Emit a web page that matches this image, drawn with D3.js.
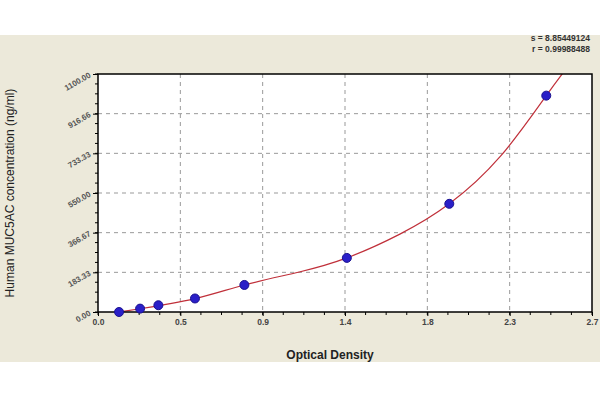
<!DOCTYPE html>
<html><head><meta charset="utf-8">
<script src="https://cdn.jsdelivr.net/npm/d3@7"></script>
<style>body{margin:0;background:#fff}</style></head>
<body><svg id="chart" width="600" height="400"></svg>
<script>
// standards: optical density vs concentration
const od = [0.115, 0.23, 0.33, 0.53, 0.80, 1.36, 1.92, 2.45];
const conc = [0, 15.6, 31.25, 62.5, 125, 250, 500, 1000];
// fitted curve
const curveOd = [0.10, 0.23, 0.53, 0.80, 1.10, 1.36, 1.65, 1.92, 2.20, 2.45, 2.60];
const curveConc = [-2, 15, 62, 125, 185, 250, 360, 500, 720, 1000, 1170];
const xTicks = [0, 0.45, 0.9, 1.35, 1.8, 2.25, 2.7];
const xTickLabels = ['0.0', '0.5', '0.9', '1.4', '1.8', '2.3', '2.7'];
const yTicks = [0, 183.33, 366.67, 550, 733.33, 916.66, 1100];
const yTickLabels = ['0.00', '183.33', '366.67', '550.00', '733.33', '916.66', '1100.00'];
const stats = ['s = 8.85449124', 'r = 0.99988488'];

const svg = d3.select('#chart');
svg.append('rect').attr('x', 0).attr('y', 35).attr('width', 600).attr('height', 327).attr('fill', '#ece9da');

const pLeft = 98, pRight = 592, pTop = 74, pBottom = 312;
const x = d3.scaleLinear().domain([0, 2.7]).range([pLeft, pRight]);
const y = d3.scaleLinear().domain([0, 1100]).range([pBottom, pTop]);

svg.append('rect').attr('x', pLeft).attr('y', pTop).attr('width', pRight - pLeft).attr('height', pBottom - pTop).attr('fill', '#fff');

const grid = svg.append('g').attr('stroke', '#999').attr('stroke-dasharray', '4,4');
xTicks.slice(1, -1).forEach(t => grid.append('line').attr('x1', x(t)).attr('x2', x(t)).attr('y1', pTop).attr('y2', pBottom));
yTicks.slice(1, -1).forEach(t => grid.append('line').attr('y1', y(t)).attr('y2', y(t)).attr('x1', pLeft).attr('x2', pRight));

svg.append('clipPath').attr('id', 'clip').append('rect')
    .attr('x', pLeft).attr('y', pTop).attr('width', pRight - pLeft).attr('height', pBottom - pTop);

const line = d3.line().x(d => x(d[0])).y(d => y(d[1])).curve(d3.curveNatural);
svg.append('path').attr('clip-path', 'url(#clip)')
    .attr('d', line(curveOd.map((v, i) => [v, curveConc[i]])))
    .attr('fill', 'none').attr('stroke', '#c0303a').attr('stroke-width', 1.2);

svg.append('rect').attr('x', pLeft).attr('y', pTop).attr('width', pRight - pLeft).attr('height', pBottom - pTop)
    .attr('fill', 'none').attr('stroke', '#000').attr('stroke-width', 1.5);

// x axis
const xAxis = svg.append('g').attr('transform', `translate(0,${pBottom})`)
    .call(d3.axisBottom(x).tickValues(xTicks).tickFormat((d, i) => xTickLabels[i]).tickSize(4));
xAxis.select('.domain').remove();
xAxis.selectAll('text').attr('font-family', 'Arial, sans-serif').attr('font-size', 8.5).attr('font-weight', 'bold').attr('fill', '#444');
const xMinor = d3.range(0, 2.7001, 0.1125);
svg.append('g').selectAll('line').data(xMinor).join('line')
    .attr('x1', d => x(d)).attr('x2', d => x(d)).attr('y1', pBottom).attr('y2', pBottom + 3).attr('stroke', '#000');

// y axis
const yAxis = svg.append('g').attr('transform', `translate(${pLeft},0)`)
    .call(d3.axisLeft(y).tickValues(yTicks).tickFormat((d, i) => yTickLabels[i]).tickSize(5));
yAxis.select('.domain').remove();
yAxis.selectAll('text').attr('font-family', 'Arial, sans-serif').attr('font-size', 8).attr('font-weight', 'bold').attr('fill', '#555')
    .attr('text-anchor', 'end').attr('transform', function() {
        return `rotate(-30, ${this.getAttribute('x') || -8}, 0)`;
    });
const yMinor = d3.range(0, 1100.1, 1100 / 24);
svg.append('g').selectAll('line').data(yMinor).join('line')
    .attr('x1', pLeft - 3).attr('x2', pLeft).attr('y1', d => y(d)).attr('y2', d => y(d)).attr('stroke', '#000');

// points
svg.append('g').selectAll('circle').data(od).join('circle')
    .attr('cx', d => x(d)).attr('cy', (d, i) => y(conc[i])).attr('r', 4.5)
    .attr('fill', '#2a1fc8').attr('stroke', '#1a1190');

svg.append('text').attr('x', 330).attr('y', 359).attr('text-anchor', 'middle')
    .attr('font-family', 'Arial, sans-serif').attr('font-size', 12).attr('font-weight', 'bold').attr('fill', '#222')
    .text('Optical Density');
svg.append('text').attr('transform', 'translate(14,193) rotate(-90)').attr('text-anchor', 'middle')
    .attr('font-family', 'Arial, sans-serif').attr('font-size', 12).attr('fill', '#222')
    .text('Human MUC5AC concentration (ng/ml)');
svg.selectAll('.stat').data(stats).join('text').attr('class', 'stat')
    .attr('x', 590).attr('y', (d, i) => 41 + i * 11).attr('text-anchor', 'end')
    .attr('font-family', 'Arial, sans-serif').attr('font-size', 8.5).attr('font-weight', 'bold').attr('fill', '#333')
    .text(d => d);
</script></body></html>
